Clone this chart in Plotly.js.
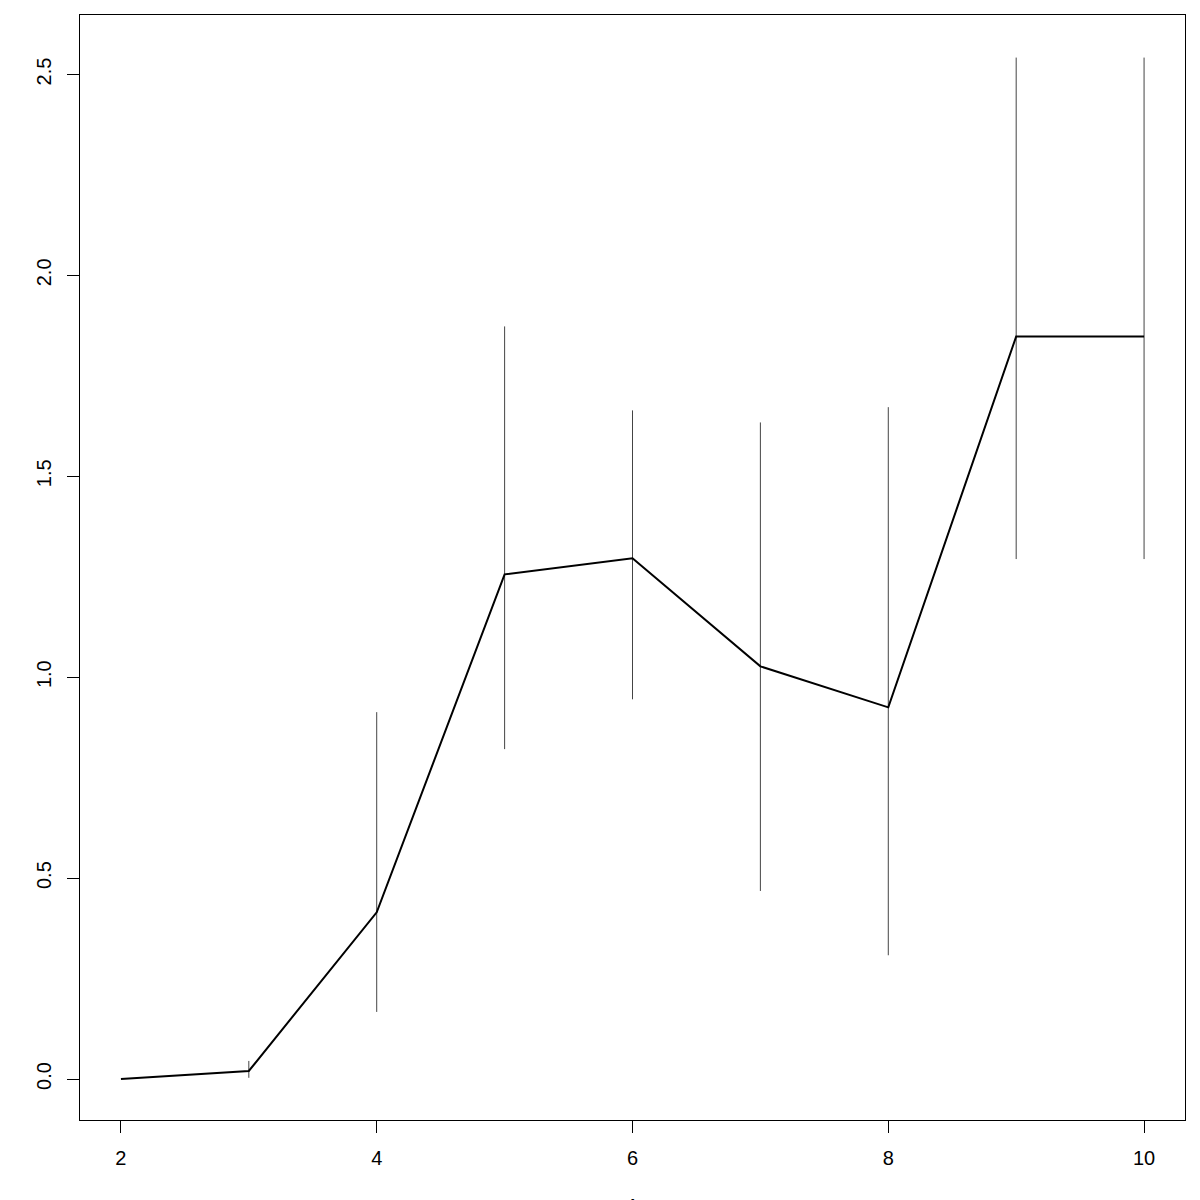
<!DOCTYPE html>
<html>
<head>
<meta charset="utf-8">
<script src="https://cdn.plot.ly/plotly-3.0.1.min.js"></script>
<style>html,body{margin:0;padding:0;background:#fff;overflow:hidden}#chart{width:1200px;height:1200px}</style>
</head>
<body>
<div id="chart"></div>
<script>
const xValues = [2, 3, 4, 5, 6, 7, 8, 9, 10];
const yMeans = [0.0, 0.02, 0.415, 1.256, 1.296, 1.027, 0.925, 1.848, 1.848];
const errUpper = [null, 0.045, 0.913, 1.873, 1.664, 1.634, 1.672, 2.542, 2.542];
const errLower = [null, 0.003, 0.167, 0.821, 0.945, 0.468, 0.308, 1.294, 1.294];
const xTicks = [2, 4, 6, 8, 10];
const yTicks = [0.0, 0.5, 1.0, 1.5, 2.0, 2.5];
const xLabel = "A";
const yLabel = "Y.bar";

const plus = yMeans.map((m, i) => errUpper[i] == null ? 0 : errUpper[i] - m);
const minus = yMeans.map((m, i) => errLower[i] == null ? 0 : m - errLower[i]);

const font = {family: "Liberation Sans, Arial, sans-serif", size: 20, color: "#000"};

const traces = [
  {
    x: xValues, y: yMeans, type: "scatter", mode: "lines",
    line: {color: "#000", width: 2},
    error_y: {type: "data", symmetric: false, array: plus, arrayminus: minus,
              color: "#444", thickness: 1, width: 0, visible: true},
    hoverinfo: "skip", showlegend: false
  }
];

const layout = {
  width: 1200, height: 1200,
  margin: {l: 80, r: 15, t: 15, b: 80},
  paper_bgcolor: "#fff", plot_bgcolor: "#fff",
  font: font,
  showlegend: false,
  xaxis: {
    range: [1.68, 10.32], tickvals: xTicks, ticktext: xTicks.map(String),
    showgrid: false, zeroline: false, showline: true, mirror: true,
    linecolor: "#000", linewidth: 1, ticks: "outside", ticklen: 12, tickcolor: "#000",
    tickfont: font, ticklabelstandoff: 8
  },
  yaxis: {
    range: [-0.102, 2.648], tickvals: yTicks, ticktext: yTicks.map(v => v.toFixed(1)),
    showgrid: false, zeroline: false, showline: true, mirror: true,
    linecolor: "#000", linewidth: 1, ticks: "outside", ticklen: 12, tickcolor: "#000",
    tickfont: font, tickangle: -90, ticklabelstandoff: 8
  },
  annotations: [
    {text: xLabel, xref: "paper", yref: "paper", x: 0.5, y: 0, xanchor: "center", yanchor: "top",
     yshift: -73, showarrow: false, font: font},
    {text: yLabel, xref: "paper", yref: "paper", x: 0, y: 0.5, xanchor: "center", yanchor: "middle",
     xshift: -89, showarrow: false, textangle: -90, font: font}
  ]
};

Plotly.newPlot("chart", traces, layout, {staticPlot: true, displayModeBar: false});
</script>
</body>
</html>
